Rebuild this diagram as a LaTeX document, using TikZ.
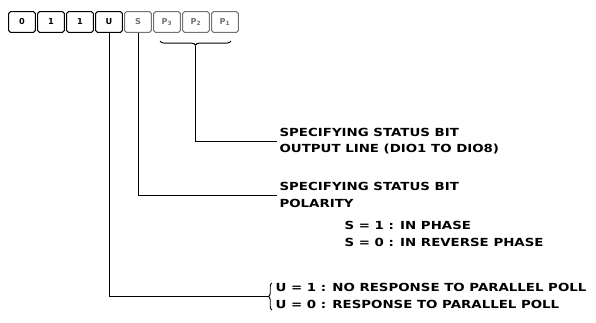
\documentclass[tikz,border=0pt]{standalone}
\usepackage{fontspec}
\setmainfont{DejaVu Sans}
\newfontfamily\lettering[FakeStretch=1.2]{DejaVu Sans}
\usetikzlibrary{decorations.pathreplacing}

\begin{document}
\begin{tikzpicture}[x=0.03cm, y=-0.03cm,
      bitbox/.style={draw, rounded corners=1.5pt, line width=0.9pt, minimum width=0.8cm, minimum height=0.62cm, inner sep=0pt, font=\bfseries\scriptsize},
      faded/.style={draw=black!55, text=black!55},
      wire/.style={line width=0.8pt},
      note/.style={anchor=west, align=left, inner sep=2pt, font=\lettering\bfseries\fontsize{9.5}{14}\selectfont},
      curly/.style={wire, decorate, decoration={brace, amplitude=3.5pt}}
    ]
      \useasboundingbox (0,0) rectangle (596,322);

      % register bits
      \node[bitbox] (bzero) at (22,22) {0};
      \node[bitbox] (bone) at (51,22) {1};
      \node[bitbox] (btwo) at (80,22) {1};
      \node[bitbox] (bu) at (109,22) {U};
      \node[bitbox, faded] (bs) at (138,22) {S};
      \node[bitbox, faded] (bpthree) at (167,22) {P\textsubscript{3}};
      \node[bitbox, faded] (bptwo) at (196,22) {P\textsubscript{2}};
      \node[bitbox, faded] (bpone) at (225,22) {P\textsubscript{1}};

      % explanations
      \node[note] (outtxt) at (277,141) {SPECIFYING STATUS BIT\\OUTPUT LINE (DIO1 TO DIO8)};
      \node[note] (poltxt) at (277,195) {SPECIFYING STATUS BIT\\POLARITY};
      \node[note] (phasetxt) at (342,234) {S = 1 : IN PHASE\\S = 0 : IN REVERSE PHASE};
      \node[note] (resptxt) at (273,296) {U = 1 : NO RESPONSE TO PARALLEL POLL\\U = 0 : RESPONSE TO PARALLEL POLL};

      % braces
      \draw[curly] (231,41) -- (160,41);
      \coordinate (ptip) at (195.5,45.5);
      \draw[curly, decoration={amplitude=3pt}] (272,310) -- (272,283);
      \coordinate (utip) at (268,296.5);

      \draw[wire] (ptip) |- (outtxt.west);
      \draw[wire] (bs.south) |- (poltxt.west);
      \draw[wire] (bu.south) |- (utip);
    \end{tikzpicture}
\end{document}
